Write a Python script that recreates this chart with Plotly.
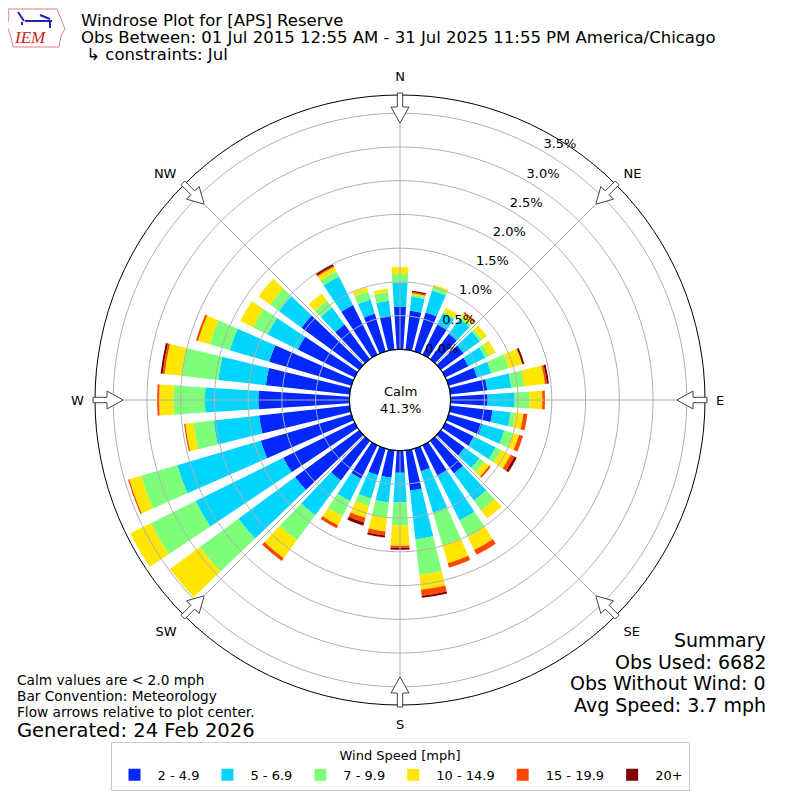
import math
import plotly.graph_objects as go

# wind direction bins (degrees, meteorological)
directions = list(range(0, 360, 10))

speed_bins = ["2 - 4.9", "5 - 6.9", "7 - 9.9", "10 - 14.9", "15 - 19.9", "20+"]
bin_colors = ["#0028ff", "#00d4ff", "#7dff7a", "#ffe600", "#ff4700", "#800000"]

# frequency [%] per direction for each speed bin
spd_2_5 = [0.63, 0.58, 0.60, 0.51, 0.47, 0.42, 0.38, 0.44, 0.55, 0.55, 0.63, 0.52,
           0.47, 0.44, 0.60, 0.51, 0.35, 0.60, 0.33, 0.41, 0.41, 0.55, 0.73, 1.18,
           1.18, 1.40, 1.35, 1.35, 1.25, 1.27, 0.94, 1.06, 0.64, 0.82, 0.58, 0.51]
spd_5_7 = [0.36, 0.21, 0.34, 0.18, 0.27, 0.30, 0.28, 0.22, 0.36, 0.40, 0.27, 0.34,
           0.36, 0.27, 0.50, 0.73, 0.64, 0.73, 0.44, 0.37, 0.36, 0.37, 0.64, 1.04,
           1.45, 1.29, 0.68, 0.79, 0.71, 0.61, 0.50, 0.42, 0.31, 0.47, 0.22, 0.22]
spd_7_10 = [0.13, 0.03, 0.06, 0.02, 0.04, 0.04, 0.07, 0.27, 0.19, 0.22, 0.07, 0.13,
            0.09, 0.09, 0.18, 0.27, 0.50, 0.53, 0.34, 0.22, 0.12, 0.25, 0.46, 0.71,
            0.74, 0.56, 0.30, 0.47, 0.55, 0.31, 0.24, 0.16, 0.13, 0.09, 0.13, 0.13]
spd_10_15 = [0.10, 0.02, 0.03, 0.07, 0.06, 0.09, 0.10, 0.21, 0.31, 0.19, 0.12, 0.10,
             0.16, 0.09, 0.15, 0.22, 0.28, 0.22, 0.30, 0.21, 0.18, 0.15, 0.33, 0.55,
             0.34, 0.18, 0.12, 0.21, 0.25, 0.18, 0.21, 0.21, 0.13, 0.07, 0.06, 0.05]
spd_15_20 = [0.00, 0.02, 0.00, 0.00, 0.03, 0.00, 0.00, 0.00, 0.03, 0.04, 0.06, 0.06,
             0.06, 0.03, 0.00, 0.08, 0.07, 0.09, 0.03, 0.06, 0.07, 0.05, 0.05, 0.00,
             0.00, 0.02, 0.02, 0.03, 0.03, 0.03, 0.00, 0.00, 0.00, 0.02, 0.00, 0.00]
spd_20p = [0.00, 0.02, 0.00, 0.00, 0.00, 0.00, 0.00, 0.03, 0.03, 0.00, 0.00, 0.00,
           0.04, 0.00, 0.00, 0.00, 0.00, 0.03, 0.03, 0.03, 0.05, 0.00, 0.00, 0.00,
           0.00, 0.00, 0.00, 0.00, 0.03, 0.00, 0.00, 0.00, 0.00, 0.03, 0.00, 0.00]

calm_pct = 41.3
r_ticks = [0.0, 0.5, 1.0, 1.5, 2.0, 2.5, 3.0, 3.5]
r_label_dir = 30    # direction along which the % labels sit
compass = ["N", "NE", "E", "SE", "S", "SW", "W", "NW"]
compass_deg = [0, 45, 90, 135, 180, 225, 270, 315]

summary = ["Summary", "Obs Used: 6682", "Obs Without Wind: 0", "Avg Speed: 3.7 mph"]
notes = ["Calm values are < 2.0 mph", "Bar Convention: Meteorology",
         "Flow arrows relative to plot center."]

W = H = 800
OFF = 8             # page body margin of the html file
CX = CY = 400       # rose centre, screen px
R_PX = 305          # outer radius of the rose in px
HOLE = 50.6 / R_PX
R_MAX = 3.77
FONT = "DejaVu Sans"


def to_paper(x, y):
    # screen px -> paper coords, compensating for the body margin
    return (x - OFF) / W, 1 - (y - OFF) / H


fig = go.Figure()

series = [spd_2_5, spd_5_7, spd_7_10, spd_10_15, spd_15_20, spd_20p]
for name, vals, col in zip(speed_bins, series, bin_colors):
    fig.add_trace(go.Barpolar(
        r=vals, theta=directions, name=name, width=7.4,
        marker=dict(color=col, line=dict(width=0)),
    ))

# grid drawn on top of the bars, like the original
circle_theta = list(range(0, 361, 2))
for rv in r_ticks[1:]:
    fig.add_trace(go.Scatterpolar(
        r=[rv] * len(circle_theta), theta=circle_theta, mode="lines",
        line=dict(color="#b0b0b0", width=1), showlegend=False, hoverinfo="skip"))
for d in compass_deg:
    fig.add_trace(go.Scatterpolar(
        r=[0, R_MAX], theta=[d, d], mode="lines",
        line=dict(color="#b0b0b0", width=1), showlegend=False, hoverinfo="skip"))
# calm circle outline
fig.add_trace(go.Scatterpolar(
    r=[0] * len(circle_theta), theta=circle_theta, mode="lines",
    line=dict(color="black", width=1.2), showlegend=False, hoverinfo="skip"))
# radial % labels, on top of the bars
fig.add_trace(go.Scatterpolar(
    r=r_ticks, theta=[r_label_dir] * len(r_ticks), mode="text",
    text=[f"{v:.1f}%" for v in r_ticks], textposition="top right",
    textfont=dict(size=13, color="black"), showlegend=False, hoverinfo="skip",
    cliponaxis=False))

x0, y1 = to_paper(CX - R_PX, CY - R_PX)
x1, y0 = to_paper(CX + R_PX, CY + R_PX)
fig.update_layout(
    width=W, height=H, margin=dict(l=0, r=0, t=0, b=0),
    paper_bgcolor="white", font=dict(family=FONT, size=13, color="black"),
    polar=dict(
        domain=dict(x=[x0, x1], y=[y0, y1]), hole=HOLE, bgcolor="white",
        barmode="stack",
        angularaxis=dict(
            rotation=90, direction="clockwise", tickmode="array",
            tickvals=compass_deg, ticktext=compass, showgrid=False,
            showline=True, linecolor="black", linewidth=1,
            ticks="outside", ticklen=8, tickcolor="rgba(0,0,0,0)",
            tickfont=dict(size=13)),
        radialaxis=dict(
            range=[0, R_MAX], tickmode="array", tickvals=r_ticks,
            showticklabels=False, showgrid=False, showline=False, ticks=""),
    ),
    legend=dict(
        orientation="h", x=to_paper(400, 0)[0], xanchor="center",
        y=to_paper(0, 742)[1], yanchor="top",
        bgcolor="white", bordercolor="#cccccc", borderwidth=1,
        font=dict(size=13), title=dict(text="Wind Speed [mph]", side="top center",
                                       font=dict(size=13)),
        itemwidth=36, itemsizing="constant"),
)

# hollow flow arrows at the rim
shapes = []
arrow = [(307, -2.7), (293, -2.7), (293, -9), (277, 0), (293, 9), (293, 2.7), (307, 2.7)]
for d in compass_deg:
    a = math.radians(d)
    pts = []
    for rr, w in arrow:
        px = CX + rr * math.sin(a) + w * math.cos(a)
        py = CY - rr * math.cos(a) + w * math.sin(a)
        pts.append(to_paper(px, py))
    path = "M " + " L ".join(f"{x:.5f},{y:.5f}" for x, y in pts) + " Z"
    shapes.append(dict(type="path", path=path, xref="paper", yref="paper",
                       fillcolor="white", line=dict(color="#444444", width=1),
                       layer="above"))

# rough IEM logo: state outline + symbol
logo = [(8, 9), (57, 9), (59, 14), (62, 21), (65, 29), (61, 36), (59, 47),
        (13, 47), (11, 37), (7, 26), (9, 17)]
path = "M " + " L ".join("%.5f,%.5f" % to_paper(x, y) for x, y in logo) + " Z"
shapes.append(dict(type="path", path=path, xref="paper", yref="paper",
                   line=dict(color="#e08080", width=1), fillcolor="rgba(0,0,0,0)"))
for (ax0, ay0, ax1, ay1) in [(25, 21, 52, 21), (18, 12, 24, 21), (40, 15, 50, 19),
                             (50, 21, 50, 28), (22, 22, 22, 25)]:
    a0, b0 = to_paper(ax0, ay0)
    a1, b1 = to_paper(ax1, ay1)
    shapes.append(dict(type="line", x0=a0, y0=b0, x1=a1, y1=b1, xref="paper",
                       yref="paper", line=dict(color="#2222bb", width=2)))
fig.update_layout(shapes=shapes)


def text_at(t, x, y, size, xanchor="left", **font):
    px, py = to_paper(x, y)
    return dict(text=t, x=px, y=py, xref="paper", yref="paper", xanchor=xanchor,
                yanchor="middle", showarrow=False, borderpad=0,
                font=dict(size=size, **font))


ann = [text_at("<i>IEM</i>", 30, 38, 17, "center", family="Liberation Serif", color="#cc2222")]
titles = ["Windrose Plot for [APS] Reserve",
          "Obs Between: 01 Jul 2015 12:55 AM - 31 Jul 2025 11:55 PM America/Chicago",
          " \u21b3 constraints: Jul"]
for i, t in enumerate(titles):
    ann.append(text_at(t, 80, 20 + 17.5 * i, 16.5))
ann.append(text_at(f"Calm<br>{calm_pct}%", CX, CY, 13, "center"))
for i, t in enumerate(notes):
    ann.append(text_at(t, 16, 680 + 16 * i, 13.7))
ann.append(text_at("Generated: 24 Feb 2026", 16, 730, 19.5))
for i, t in enumerate(summary):
    ann.append(text_at(t, 767, 640 + 21.7 * i, 19, "right"))
fig.update_layout(annotations=ann)

fig.write_html("out.html")
